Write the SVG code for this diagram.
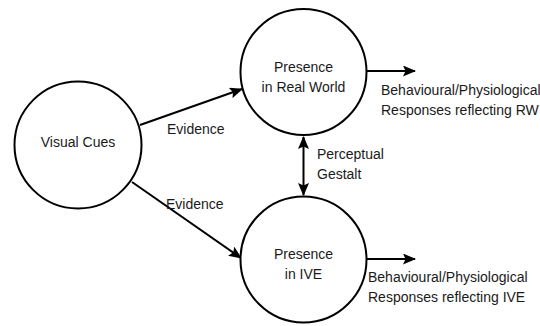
<svg xmlns="http://www.w3.org/2000/svg" width="540" height="326" viewBox="0 0 540 326">
<style>
.node{fill:#fff;stroke:#000;stroke-width:2}
.edge{fill:none;stroke:#000;stroke-width:2}
text{font-family:"Liberation Sans",Arial,sans-serif;font-size:14px;fill:#1a1a1a}
.c{text-anchor:middle}
</style>
<defs>
<marker id="ah" viewBox="0 0 13 11" refX="12" refY="5.5" markerWidth="13" markerHeight="11" markerUnits="userSpaceOnUse" orient="auto-start-reverse">
<path d="M0,0 L13,5.5 L0,11 L2.5,5.5 Z" fill="#000"/>
</marker>
</defs>
<rect width="540" height="326" fill="#fff"/>
<g id="connectors">
<line class="edge" x1="140" y1="125" x2="242" y2="89" marker-end="url(#ah)"/>
<line class="edge" x1="132" y1="182" x2="241" y2="258" marker-end="url(#ah)"/>
<line class="edge" x1="303.5" y1="137" x2="303.5" y2="195" marker-start="url(#ah)" marker-end="url(#ah)"/>
<line class="edge" x1="367" y1="71" x2="415" y2="71" marker-end="url(#ah)"/>
<line class="edge" x1="367" y1="259" x2="415" y2="259" marker-end="url(#ah)"/>
<text x="167" y="134">Evidence</text>
<text x="166" y="209">Evidence</text>
<text x="317" y="159">Perceptual</text>
<text x="317" y="179">Gestalt</text>
</g>
<g id="visual-cues">
<circle class="node" cx="78" cy="145" r="63.5"/>
<text class="c" x="78" y="147">Visual Cues</text>
</g>
<g id="presence-rw">
<circle class="node" cx="303.5" cy="72" r="63"/>
<text class="c" x="303.5" y="72">Presence</text>
<text class="c" x="303.5" y="92">in Real World</text>
</g>
<g id="presence-ive">
<circle class="node" cx="303.5" cy="259.5" r="63"/>
<text class="c" x="303.5" y="259">Presence</text>
<text class="c" x="303.5" y="279">in IVE</text>
</g>
<g id="response-rw">
<text x="381" y="95">Behavioural/Physiological</text>
<text x="381" y="115">Responses reflecting RW</text>
</g>
<g id="response-ive">
<text x="368" y="282">Behavioural/Physiological</text>
<text x="368" y="302">Responses reflecting IVE</text>
</g>
</svg>
